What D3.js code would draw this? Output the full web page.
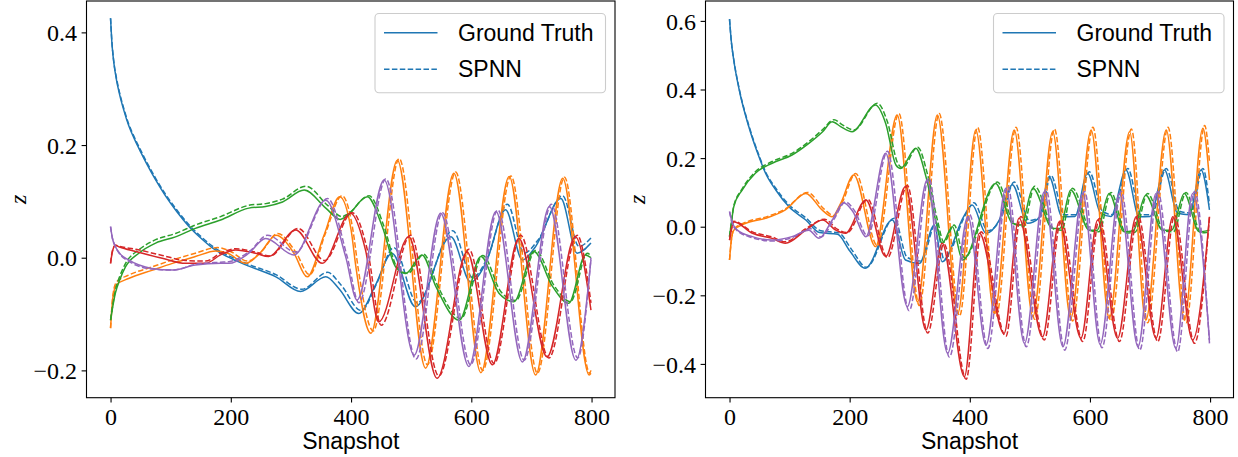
<!DOCTYPE html>
<html><head><meta charset="utf-8">
<script src="https://cdn.jsdelivr.net/npm/d3@7"></script>
<style>body{margin:0;background:#fff}svg{display:block}</style>
</head><body>
<svg id="chart" width="1238" height="457"></svg>
<script>
// ---------- DATA: [snapshot, z] ----------
const snapshotTicks = [0, 200, 400, 600, 800];
const leftZTicks = [-0.2, 0.0, 0.2, 0.4];
const rightZTicks = [-0.4, -0.2, 0.0, 0.2, 0.4, 0.6];
const legendLabels = ["Ground Truth", "SPNN"];
const colors = ["#1f77b4", "#ff7f0e", "#2ca02c", "#d62728", "#9467bd"];

// Left panel, ground truth
const leftBlueTruth = [[0,0.425],[2,0.385],[5,0.35],[10,0.315],[15,0.29],[22,0.262],[30,0.235],[40,0.21],[50,0.188],[60,0.167],[75,0.138],[90,0.112],[110,0.082],[130,0.056],[150,0.035],[170,0.017],[190,0.004],[210,-0.006],[230,-0.015],[275,-0.034],[316,-0.060],[358,-0.034],[380,-0.055],[413,-0.099],[440,-0.05],[468,0.008],[507,-0.087],[566,0.037],[599,-0.043],[624,-0.01],[657,0.085],[685,-0.004],[707,0.02],[749,0.105],[776,0.008],[799,0.026]];
const leftOrangeTruth = [[0,-0.125],[4,-0.07],[10,-0.048],[30,-0.037],[70,-0.022],[103,-0.010],[141,0.002],[175,0.012],[195,0.008],[225,-0.010],[250,0.01],[275,0.040],[305,0.008],[327,-0.034],[355,0.04],[381,0.108],[400,0.05],[408,-0.016],[433,-0.134],[477,0.173],[524,-0.196],[571,0.150],[616,-0.204],[663,0.144],[707,-0.208],[752,0.141],[796,-0.208],[799,-0.205]];
const leftGreenTruth = [[0,-0.111],[4,-0.085],[8,-0.063],[15,-0.04],[25,-0.016],[47,0.008],[75,0.026],[108,0.037],[141,0.052],[183,0.067],[230,0.088],[258,0.091],[286,0.099],[322,0.120],[358,0.088],[382,0.068],[392,0.073],[427,0.108],[452,0.055],[474,-0.016],[491,-0.028],[518,0.005],[541,-0.051],[580,-0.111],[616,0.002],[646,-0.063],[671,-0.078],[704,0.011],[735,-0.051],[762,-0.081],[790,0.005],[799,0.0]];
const leftRedTruth = [[0,-0.010],[3,0.01],[8,0.022],[15,0.019],[42,0.011],[86,-0.001],[125,-0.010],[158,-0.010],[183,0.005],[208,0.0137],[241,0.008],[263,0.002],[308,0.049],[352,-0.010],[399,0.079],[424,0.014],[446,-0.114],[496,0.037],[543,-0.214],[593,0.010],[635,-0.190],[679,0.034],[726,-0.176],[773,0.037],[799,-0.093]];
const leftPurpleTruth = [[0,0.055],[3,0.035],[8,0.02],[15,0.008],[30,-0.004],[69,-0.019],[103,-0.022],[141,-0.013],[183,-0.010],[197,-0.010],[230,0.008],[258,0.034],[305,0.005],[358,0.102],[391,0.002],[410,-0.075],[455,0.138],[505,-0.173],[549,0.079],[596,-0.193],[641,0.082],[685,-0.185],[730,0.091],[774,-0.182],[799,-0.004]];

// Left panel, SPNN
const leftBlueSpnn = [[0,0.425],[2,0.387],[5,0.352],[10,0.318],[15,0.293],[22,0.265],[30,0.238],[40,0.213],[50,0.191],[60,0.17],[75,0.141],[90,0.115],[110,0.085],[130,0.059],[150,0.038],[170,0.02],[190,0.007],[210,-0.003],[230,-0.012],[275,-0.030],[318,-0.056],[361,-0.026],[383,-0.048],[417,-0.094],[443,-0.045],[471,0.018],[510,-0.08],[569,0.048],[602,-0.035],[627,0.0],[660,0.095],[688,0.008],[710,0.03],[752,0.11],[779,0.02],[799,0.035]];
const leftOrangeSpnn = [[0,-0.125],[4,-0.066],[10,-0.043],[30,-0.031],[70,-0.016],[103,-0.004],[141,0.008],[178,0.018],[198,0.012],[228,-0.006],[252,0.012],[278,0.043],[308,0.01],[331,-0.03],[358,0.045],[385,0.11],[403,0.05],[412,-0.02],[437,-0.13],[480,0.176],[527,-0.19],[574,0.152],[619,-0.20],[666,0.145],[710,-0.205],[755,0.143],[797,-0.205],[799,-0.2]];
const leftGreenSpnn = [[0,-0.111],[4,-0.082],[8,-0.058],[15,-0.034],[25,-0.01],[47,0.014],[75,0.032],[108,0.043],[141,0.058],[183,0.073],[230,0.093],[258,0.096],[286,0.104],[325,0.127],[361,0.093],[385,0.073],[395,0.078],[430,0.11],[455,0.055],[477,-0.018],[494,-0.028],[521,0.006],[544,-0.05],[583,-0.108],[619,0.004],[649,-0.06],[674,-0.076],[707,0.013],[738,-0.05],[765,-0.078],[793,0.008],[799,0.003]];
const leftRedSpnn = [[0,-0.010],[3,0.012],[8,0.022],[15,0.02],[42,0.015],[86,0.004],[125,-0.005],[158,-0.006],[183,0.008],[208,0.016],[241,0.01],[265,0.003],[312,0.052],[356,-0.005],[402,0.08],[428,0.01],[450,-0.12],[499,0.04],[546,-0.21],[596,0.015],[638,-0.188],[682,0.04],[729,-0.178],[776,0.04],[799,-0.08]];
const leftPurpleSpnn = [[0,0.055],[3,0.035],[8,0.02],[15,0.007],[30,-0.006],[69,-0.02],[103,-0.022],[141,-0.012],[183,-0.008],[197,-0.007],[232,0.012],[261,0.04],[308,0.01],[361,0.105],[394,0.0],[413,-0.08],[458,0.14],[508,-0.18],[552,0.08],[599,-0.19],[644,0.085],[688,-0.182],[733,0.095],[777,-0.178],[799,0.0]];

// Right panel, ground truth
const rightBlueTruth = [[0,0.605],[3,0.54],[7,0.486],[16,0.40],[32,0.292],[49,0.204],[60,0.156],[77,0.107],[99,0.058],[127,0.0195],[150,-0.017],[180,-0.022],[200,-0.07],[226,-0.121],[271,0.0195],[293,-0.097],[316,-0.107],[341,0.005],[354,-0.102],[390,0.03],[404,0.063],[427,-0.019],[449,0.0195],[471,0.122],[496,0.010],[515,0.025],[532,0.146],[554,0.029],[575,0.03],[596,0.156],[618,0.039],[635,0.03],[660,0.165],[682,0.029],[700,0.03],[724,0.165],[746,0.039],[765,0.035],[785,0.165],[799,0.049]];
const rightOrangeTruth = [[0,-0.097],[3,-0.04],[7,-0.010],[27,0.010],[60,0.0245],[93,0.049],[127,0.097],[154,0.049],[171,0.029],[185,0.068],[207,0.151],[243,-0.058],[279,0.326],[313,-0.219],[346,0.326],[380,-0.253],[410,0.282],[441,-0.253],[474,0.282],[505,-0.262],[538,0.277],[568,-0.267],[602,0.282],[632,-0.267],[666,0.277],[693,-0.272],[727,0.282],[757,-0.272],[788,0.287],[799,0.136]];
const rightGreenTruth = [[0,-0.029],[3,0.01],[7,0.058],[21,0.107],[43,0.156],[71,0.185],[104,0.209],[132,0.243],[155,0.277],[171,0.306],[185,0.292],[204,0.277],[243,0.355],[260,0.301],[277,0.18],[285,0.170],[310,0.229],[327,0.146],[343,0.0195],[354,-0.048],[371,0.0],[388,-0.097],[443,0.126],[471,0.010],[486,0.005],[505,0.112],[538,-0.005],[550,-0.005],[568,0.107],[599,-0.010],[612,-0.01],[632,0.097],[657,-0.015],[672,-0.012],[693,0.092],[721,-0.010],[736,-0.01],[757,0.097],[782,-0.015],[799,-0.010]];
const rightRedTruth = [[0,-0.039],[3,-0.01],[7,0.0146],[38,-0.019],[71,-0.034],[93,-0.048],[127,-0.010],[155,0.0195],[177,-0.010],[193,-0.019],[227,0.078],[260,-0.087],[293,0.117],[327,-0.301],[354,-0.048],[391,-0.437],[416,-0.019],[457,-0.311],[482,0.0245],[521,-0.321],[549,0.0146],[585,-0.325],[613,0.0195],[646,-0.325],[677,0.029],[710,-0.325],[738,0.029],[771,-0.330],[799,0.029]];
const rightPurpleTruth = [[0,0.044],[5,0.01],[13,-0.010],[38,-0.029],[71,-0.039],[104,-0.029],[132,-0.010],[149,-0.034],[171,0.0195],[190,0.07],[205,0.045],[227,-0.029],[260,0.214],[296,-0.233],[329,0.136],[363,-0.369],[397,0.03],[427,-0.345],[460,0.112],[491,-0.340],[524,0.102],[555,-0.350],[588,0.097],[617,-0.343],[649,0.097],[680,-0.350],[710,0.097],[743,-0.355],[771,0.097],[799,-0.330]];

// Right panel, SPNN
const rightBlueSpnn = [[0,0.605],[3,0.54],[7,0.488],[16,0.403],[32,0.296],[49,0.208],[60,0.16],[77,0.112],[99,0.064],[127,0.026],[152,-0.012],[182,-0.018],[203,-0.066],[228,-0.118],[274,0.025],[296,-0.09],[319,-0.1],[344,0.012],[357,-0.095],[393,0.035],[407,0.07],[430,-0.012],[452,0.025],[474,0.13],[499,0.018],[518,0.03],[535,0.15],[557,0.035],[578,0.035],[599,0.16],[621,0.045],[638,0.035],[663,0.17],[685,0.035],[703,0.035],[727,0.17],[749,0.045],[768,0.04],[788,0.17],[799,0.065]];
const rightOrangeSpnn = [[0,-0.097],[3,-0.04],[7,-0.008],[27,0.013],[60,0.028],[93,0.052],[130,0.10],[157,0.052],[174,0.032],[188,0.072],[210,0.155],[246,-0.055],[282,0.33],[316,-0.23],[349,0.33],[383,-0.26],[413,0.29],[444,-0.26],[477,0.29],[508,-0.27],[541,0.285],[571,-0.275],[605,0.29],[635,-0.275],[669,0.285],[696,-0.28],[730,0.29],[760,-0.28],[791,0.295],[799,0.19]];
const rightGreenSpnn = [[0,-0.029],[3,0.012],[7,0.06],[21,0.11],[43,0.16],[71,0.19],[104,0.214],[132,0.248],[155,0.283],[174,0.312],[188,0.297],[207,0.282],[246,0.36],[263,0.305],[280,0.185],[288,0.172],[313,0.232],[330,0.15],[346,0.02],[357,-0.045],[374,0.005],[391,-0.09],[446,0.13],[474,0.008],[489,0.0],[508,0.118],[541,-0.008],[553,-0.01],[571,0.112],[602,-0.012],[615,-0.015],[635,0.1],[660,-0.018],[675,-0.016],[696,0.097],[724,-0.013],[739,-0.015],[760,0.1],[785,-0.018],[799,-0.015]];
const rightRedSpnn = [[0,-0.039],[3,-0.008],[7,0.016],[38,-0.015],[71,-0.03],[93,-0.044],[127,-0.006],[158,0.022],[180,-0.008],[196,-0.017],[230,0.08],[263,-0.09],[296,0.12],[330,-0.31],[357,-0.05],[394,-0.445],[419,-0.015],[460,-0.32],[485,0.03],[524,-0.33],[552,0.02],[588,-0.335],[616,0.025],[649,-0.335],[680,0.033],[713,-0.335],[741,0.033],[774,-0.34],[799,0.03]];
const rightPurpleSpnn = [[0,0.044],[5,0.008],[13,-0.012],[38,-0.032],[71,-0.042],[104,-0.032],[135,-0.006],[152,-0.03],[174,0.022],[193,0.072],[208,0.047],[230,-0.027],[263,0.22],[299,-0.245],[332,0.142],[366,-0.38],[400,0.035],[430,-0.355],[463,0.118],[494,-0.35],[527,0.108],[558,-0.36],[591,0.103],[620,-0.353],[652,0.103],[683,-0.36],[713,0.103],[746,-0.365],[774,0.103],[799,-0.34]];

// ---------- DRAWING ----------
const svg = d3.select("#chart");
const panels = [
  {left:86.5, right:615, top:1, bottom:397.7, yDomain:[-0.2485,0.4557], yTicks:leftZTicks,
   truth:[leftBlueTruth,leftOrangeTruth,leftGreenTruth,leftRedTruth,leftPurpleTruth],
   spnn:[leftBlueSpnn,leftOrangeSpnn,leftGreenSpnn,leftRedSpnn,leftPurpleSpnn]},
  {left:705.5, right:1233.5, top:1, bottom:397.7, yDomain:[-0.4985,0.658], yTicks:rightZTicks,
   truth:[rightBlueTruth,rightOrangeTruth,rightGreenTruth,rightRedTruth,rightPurpleTruth],
   spnn:[rightBlueSpnn,rightOrangeSpnn,rightGreenSpnn,rightRedSpnn,rightPurpleSpnn]}
];
const fmt = d3.format(".1f");

panels.forEach((p, pi) => {
  const x = d3.scaleLinear().domain([-40, 839]).range([p.left, p.right]);
  const y = d3.scaleLinear().domain(p.yDomain).range([p.bottom, p.top]);
  const g = svg.append("g");
  const clipId = "clip" + pi;
  svg.append("clipPath").attr("id", clipId).append("rect")
    .attr("x", p.left).attr("y", p.top).attr("width", p.right - p.left).attr("height", p.bottom - p.top);
  const line = d3.line().x(d => x(d[0])).y(d => y(d[1])).curve(d3.curveMonotoneX);
  const lines = g.append("g").attr("clip-path", `url(#${clipId})`);
  p.truth.forEach((s, i) => {
    lines.append("path").attr("d", line(s)).attr("fill", "none")
      .attr("stroke", colors[i]).attr("stroke-width", 1.5);
    lines.append("path").attr("d", line(p.spnn[i])).attr("fill", "none")
      .attr("stroke", colors[i]).attr("stroke-width", 1.5).attr("stroke-dasharray", "5.5,2.4");
  });

  // axes
  const xAxis = g.append("g").attr("transform", `translate(0,${p.bottom})`)
    .call(d3.axisBottom(x).tickValues(snapshotTicks).tickSize(4.9).tickPadding(4).tickFormat(d3.format("d")));
  const yAxis = g.append("g").attr("transform", `translate(${p.left},0)`)
    .call(d3.axisLeft(y).tickValues(p.yTicks).tickSize(4.9).tickPadding(4.5).tickFormat(fmt));
  [xAxis, yAxis].forEach(a => {
    a.select(".domain").remove();
    a.selectAll(".tick line").attr("stroke", "#000").attr("stroke-width", 1.1);
    a.selectAll(".tick text").attr("fill", "#000").style("font-family", "'Liberation Serif', 'DejaVu Serif', serif").style("font-size", "24px");
  });
  xAxis.selectAll(".tick text").attr("dy", "0.75em");
  yAxis.selectAll(".tick text").attr("dy", "0.34em");

  // frame
  g.append("rect").attr("x", p.left).attr("y", p.top).attr("width", p.right - p.left).attr("height", p.bottom - p.top)
    .attr("fill", "none").attr("stroke", "#000").attr("stroke-width", 1.1);

  // labels
  g.append("text").attr("x", (p.left + p.right) / 2).attr("y", 449)
    .attr("text-anchor", "middle").style("font-family", "'Liberation Sans', Arial, sans-serif").style("font-size", "23px")
    .text("Snapshot");
  g.append("text").attr("transform", `translate(${p.left - 68},${(p.top + p.bottom) / 2}) rotate(-90)`)
    .attr("text-anchor", "middle").attr("dy", "0.3em")
    .style("font-family", "'Liberation Serif', serif").style("font-style", "italic").style("font-size", "24px")
    .text("z");

  // legend
  const lx = p.right - 9.5 - 230.5, ly = 13.5;
  const lg = g.append("g");
  lg.append("rect").attr("x", lx).attr("y", ly).attr("width", 230.5).attr("height", 79.3).attr("rx", 4)
    .attr("fill", "#fff").attr("fill-opacity", 0.8).attr("stroke", "#cccccc").attr("stroke-width", 1.1);
  legendLabels.forEach((lab, k) => {
    const yy = ly + 19.2 + k * 36.5;
    lg.append("line").attr("x1", lx + 9).attr("x2", lx + 62.5).attr("y1", yy).attr("y2", yy)
      .attr("stroke", colors[0]).attr("stroke-width", 1.5).attr("stroke-dasharray", k === 1 ? "5.5,2.4" : null);
    lg.append("text").attr("x", lx + 83).attr("y", yy).attr("dy", "0.35em")
      .style("font-family", "'Liberation Sans', Arial, sans-serif").style("font-size", "23px").text(lab);
  });
});
</script>
</body></html>
